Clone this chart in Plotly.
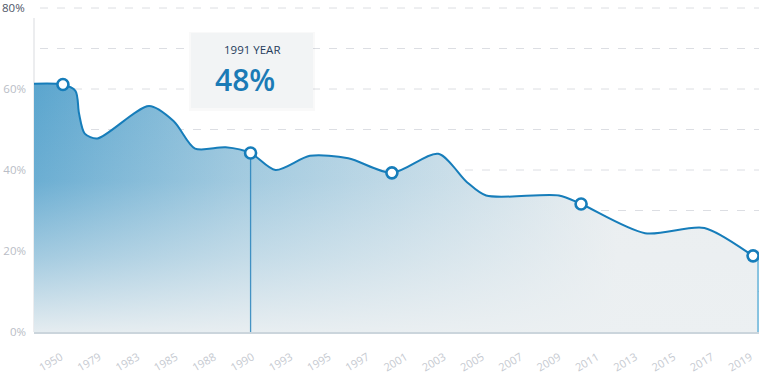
import plotly.graph_objects as go

# ---- data ----
years = ["1950", "1979", "1983", "1985", "1988", "1990", "1993", "1995", "1997", "2001",
         "2003", "2005", "2007", "2009", "2011", "2013", "2015", "2017", "2019"]
# curve positions along the category axis (fractional index) and values (%)
curve_pos = [-0.705, 0.05, 0.38, 0.47, 0.62, 0.95, 2.30, 2.95, 3.50, 4.30, 4.95, 5.60,
             6.50, 7.50, 8.64, 9.85, 10.60, 11.10, 13.00, 13.58, 15.25, 16.80, 18.07, 18.20]
curve_val = [61.3, 61.1, 59.5, 54.0, 49.0, 47.8, 55.8, 52.0, 45.3, 45.6, 44.2, 40.0,
             43.5, 42.9, 39.3, 44.0, 37.0, 33.7, 33.7, 31.6, 24.4, 25.7, 18.8, 18.0]
marker_idx = [1, 10, 14, 19, 22]
highlight_idx = 10
highlight_label = "1991 YEAR"
highlight_value = "48%"
y_ticks = [0, 20, 40, 60]
y_top = 80
grid_vals = [10, 20, 30, 40, 50, 60, 70, 80]

BLUE = "rgb(22,125,186)"
FONT = "Open Sans"
SMOOTH = 0.8

fig = go.Figure()

# gradient fill (horizontal)
fig.add_trace(go.Scatter(
    x=curve_pos, y=curve_val, mode="lines", fill="tozeroy",
    line=dict(width=0, shape="spline", smoothing=SMOOTH),
    fillgradient=dict(type="horizontal", start=-0.705, stop=14.5,
                      colorscale=[[0, "rgb(90,165,206)"], [0.35, "rgb(152,197,221)"],
                                  [1, "rgb(234,238,240)"]]),
    hoverinfo="skip", showlegend=False))
# vertical fade overlay
fig.add_trace(go.Scatter(
    x=curve_pos, y=curve_val, mode="lines", fill="tozeroy",
    line=dict(width=0, shape="spline", smoothing=SMOOTH),
    fillgradient=dict(type="vertical", start=0, stop=62,
                      colorscale=[[0, "rgba(236,240,242,0.95)"], [0.3, "rgba(236,240,242,0.5)"],
                                  [0.6, "rgba(236,240,242,0.12)"], [1, "rgba(236,240,242,0)"]]),
    hoverinfo="skip", showlegend=False))

# drop lines
for i, col in [(highlight_idx, "rgba(30,125,185,0.8)"), (len(curve_pos) - 1, "rgba(60,160,210,0.9)")]:
    fig.add_trace(go.Scatter(x=[curve_pos[i], curve_pos[i]], y=[0, curve_val[i]], mode="lines",
                             line=dict(color=col, width=1.3), hoverinfo="skip", showlegend=False))

# main line
fig.add_trace(go.Scatter(
    x=curve_pos, y=curve_val, mode="lines",
    line=dict(color=BLUE, width=2, shape="spline", smoothing=SMOOTH),
    hoverinfo="skip", showlegend=False))

# markers
fig.add_trace(go.Scatter(
    x=[curve_pos[i] for i in marker_idx], y=[curve_val[i] for i in marker_idx], mode="markers",
    marker=dict(size=11, color="white", line=dict(color=BLUE, width=2.6)),
    hoverinfo="skip", showlegend=False))

W, H = 760, 381
L, R, T, B = 34, 1, 6, 49
pw, ph = W - L - R, H - T - B

def px_x(p):
    return (p - L) / pw

def px_y(p):
    return (H - B - p) / ph

shapes = []
for g in grid_vals:
    shapes.append(dict(type="line", xref="paper", yref="y", x0=px_x(40), x1=1, y0=g, y1=g,
                       line=dict(color="#dcdee3", width=1, dash="8px,9px"), layer="below"))
shapes.append(dict(type="line", xref="paper", yref="paper", x0=0, x1=0, y0=0, y1=px_y(18),
                   line=dict(color="#e6e7ea", width=1.5), layer="below"))
# box shadow + box
shapes.append(dict(type="rect", xref="paper", yref="paper", x0=px_x(189), x1=px_x(315),
                   y0=px_y(111), y1=px_y(32), fillcolor="rgba(0,0,0,0.025)", line=dict(width=0),
                   layer="below"))
shapes.append(dict(type="rect", xref="paper", yref="paper", x0=px_x(191), x1=px_x(313),
                   y0=px_y(108), y1=px_y(33), fillcolor="#f2f4f5", line=dict(width=0),
                   layer="below"))

annotations = [
    dict(xref="paper", yref="paper", x=px_x(252), y=px_y(49), text=highlight_label,
         showarrow=False, font=dict(family=FONT, size=11.5, color="#263d5c"),
         xanchor="center", yanchor="middle"),
    dict(xref="paper", yref="paper", x=px_x(245), y=px_y(79), text=highlight_value,
         showarrow=False, font=dict(family=FONT, size=30, color="#1b7bb6", weight=600),
         xanchor="center", yanchor="middle"),
    dict(xref="paper", yref="y", x=0, xshift=-7, y=y_top, yshift=1, text=f"{y_top}%",
         showarrow=False, font=dict(family=FONT, size=11.5, color="#4d5566"),
         xanchor="right", yanchor="middle"),
]

fig.update_layout(
    width=W, height=H, margin=dict(l=L, r=R, t=T, b=B),
    paper_bgcolor="white", plot_bgcolor="white",
    font=dict(family=FONT),
    shapes=shapes, annotations=annotations,
    xaxis=dict(range=[-0.705, 18.225], tickmode="array", tickvals=list(range(len(years))),
               ticktext=years, tickangle=-30, tickfont=dict(size=11, color="#c6cad1"),
               ticklabelstandoff=13,
               showgrid=False, zeroline=False, showline=True, linecolor="#cbd5dc",
               linewidth=1.5, ticks="", fixedrange=True),
    yaxis=dict(range=[0, 80.5], tickmode="array", tickvals=y_ticks,
               ticktext=[f"{v}%" for v in y_ticks],
               tickfont=dict(size=11.5, color="#b9bdc6"), showgrid=False, zeroline=False,
               ticklabelstandoff=7,
               showline=False, ticks="", fixedrange=True),
)

fig.write_html("out.html")
